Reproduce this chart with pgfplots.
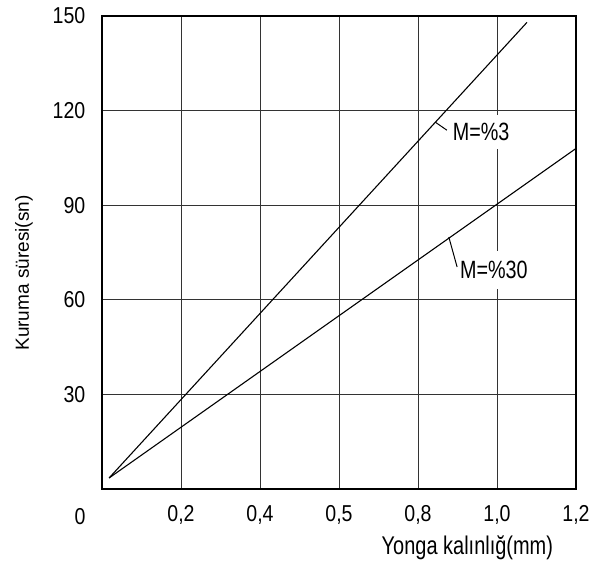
\documentclass[border=0pt]{standalone}
\usepackage{fontspec}
\setmainfont{Liberation Sans}
\newfontfamily\tickfont[FakeStretch=0.85]{Liberation Sans}
\newfontfamily\xlabfont[FakeStretch=0.78]{Liberation Sans}
\newfontfamily\annfont[FakeStretch=0.79]{Liberation Sans}
\usepackage{pgfplots}
\pgfplotsset{compat=1.18}

\begin{document}
\begin{tikzpicture}
\begin{axis}[
  scale only axis, width=237pt, height=236.5pt,
  xmin=0, xmax=1.2, ymin=0, ymax=150,
  xtick={0.2,0.4,0.6,0.8,1.0,1.2},
  xticklabels={{0,2},{0,4},{0,5},{0,8},{1,0},{1,2}},
  ytick={30,60,90,120,150},
  major tick length=0pt,
  grid=major, major grid style={black!80, line width=0.5pt},
  axis line style={black, line width=0.6pt},
  /pgf/number format/assume math mode=true,
  ticklabel style={font=\tickfont\fontsize{11.5}{13}\selectfont},
  xticklabel style={yshift=-4.7pt},
  yticklabel style={xshift=-4.8pt},
  clip=false,
]
\addplot[black, line width=0.55pt] coordinates {(0.018,3.5) (1.076,148)};
\addplot[black, line width=0.55pt] coordinates {(0.018,3.5) (1.2,108)};

\draw[black, line width=0.5pt] (axis cs:0.843,116.4) -- (axis cs:0.873,113.8);
\draw[black, line width=0.5pt] (axis cs:0.878,79.9) -- (axis cs:0.899,70.4);
\node[fill=white, inner xsep=1pt, inner ysep=4pt, font=\annfont\fontsize{12.5}{14}\selectfont]
  at (axis cs:0.96,113.3) {M=\%3};
\node[fill=white, inner xsep=1pt, inner ysep=5pt, font=\annfont\fontsize{12.5}{14}\selectfont]
  at (axis cs:0.992,69.4) {M=\%30};

\node[font=\tickfont\fontsize{11.5}{13}\selectfont] at (axis cs:-0.0557,-8.9) {0};
\node[font=\xlabfont\fontsize{12.8}{14}\selectfont] at (axis cs:0.925,-18.7) {Yonga kalınlığ(mm)};
\node[font=\fontsize{9.5}{11}\selectfont, rotate=90] at (axis cs:-0.1975,68.5) {Kuruma süresi(sn)};
\end{axis}
\pgfresetboundingbox
\path[use as bounding box] (current axis.south west) ++(-51pt,-42.5pt) rectangle ([xshift=10.5pt, yshift=8pt]current axis.north east);
\end{tikzpicture}
\end{document}
